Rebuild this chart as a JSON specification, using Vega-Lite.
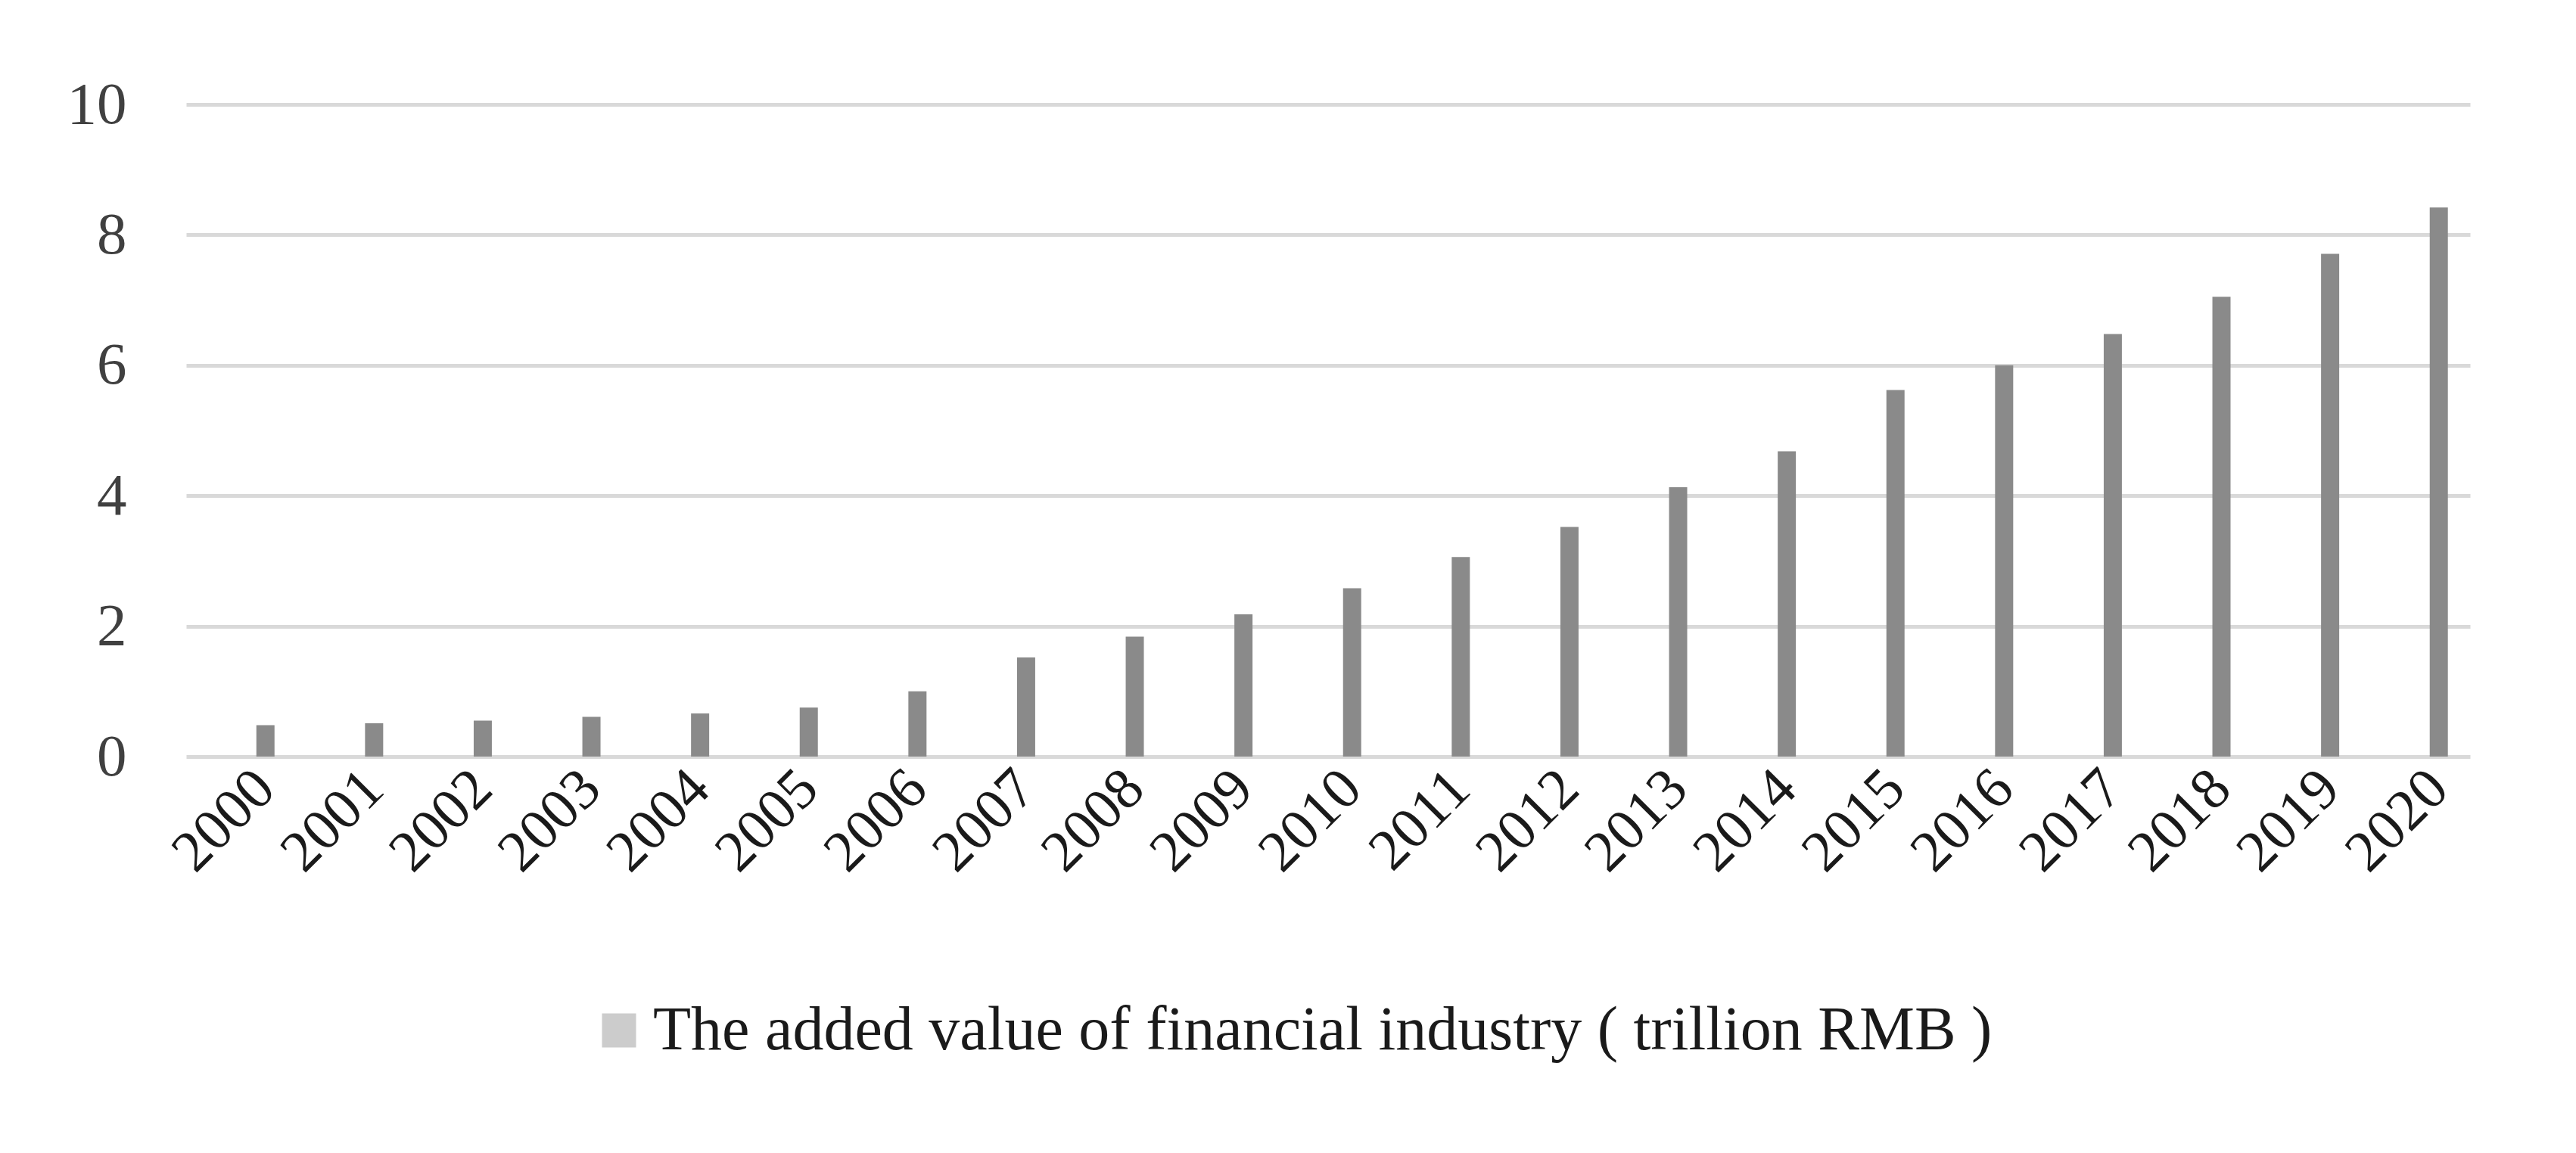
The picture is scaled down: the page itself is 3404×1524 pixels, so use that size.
{
  "$schema": "https://vega.github.io/schema/vega-lite/v6.json",
  "width": 3018,
  "height": 862,
  "padding": {"left": 88, "top": 99, "right": 10, "bottom": 10},
  "background": "white",
  "data": {
    "values": [
      {"year": "2000", "value": 0.48},
      {"year": "2001", "value": 0.51},
      {"year": "2002", "value": 0.55},
      {"year": "2003", "value": 0.61},
      {"year": "2004", "value": 0.66},
      {"year": "2005", "value": 0.75},
      {"year": "2006", "value": 1.0},
      {"year": "2007", "value": 1.52},
      {"year": "2008", "value": 1.84},
      {"year": "2009", "value": 2.18},
      {"year": "2010", "value": 2.58},
      {"year": "2011", "value": 3.06},
      {"year": "2012", "value": 3.52},
      {"year": "2013", "value": 4.13},
      {"year": "2014", "value": 4.68},
      {"year": "2015", "value": 5.62},
      {"year": "2016", "value": 6.0},
      {"year": "2017", "value": 6.48},
      {"year": "2018", "value": 7.05},
      {"year": "2019", "value": 7.71},
      {"year": "2020", "value": 8.42}
    ]
  },
  "encoding": {
    "x": {
      "field": "year",
      "type": "nominal",
      "scale": {"paddingInner": 0.833, "paddingOuter": 0.425, "align": 0.76},
      "axis": {
        "title": null,
        "labelAngle": -45,
        "labelAlign": "right",
        "labelBaseline": "middle",
        "labelPadding": 30,
        "labelFont": "Liberation Serif",
        "labelFontSize": 77,
        "labelColor": "#1a1a1a",
        "domain": false,
        "ticks": false,
        "grid": false
      }
    },
    "y": {
      "field": "value",
      "type": "quantitative",
      "scale": {"domain": [0, 10], "nice": false},
      "axis": {
        "title": null,
        "values": [0, 2, 4, 6, 8, 10],
        "labelFont": "Liberation Serif",
        "labelFontSize": 79,
        "labelColor": "#404040",
        "labelPadding": 79,
        "domain": false,
        "ticks": false,
        "grid": true,
        "gridColor": "#d9d9d9",
        "gridWidth": 5
      }
    }
  },
  "layer": [
    {
      "mark": {"type": "bar", "color": "#8a8a8a"}
    },
    {
      "mark": {"type": "square", "size": 0, "filled": true},
      "encoding": {
        "color": {
          "datum": "The added value of financial industry ( trillion RMB )",
          "type": "nominal",
          "scale": {"range": ["#cccccc"]},
          "legend": {
            "title": null,
            "orient": "none",
            "legendX": 531,
            "legendY": 1183,
            "direction": "horizontal",
            "symbolType": "square",
            "symbolSize": 2025,
            "symbolStrokeWidth": 0,
            "symbolOpacity": 1,
            "labelFont": "Liberation Serif",
            "labelFontSize": 82,
            "labelColor": "#1a1a1a",
            "labelOffset": 4,
            "labelLimit": 3000
          }
        }
      }
    }
  ],
  "config": {
    "view": {"stroke": null}
  }
}
